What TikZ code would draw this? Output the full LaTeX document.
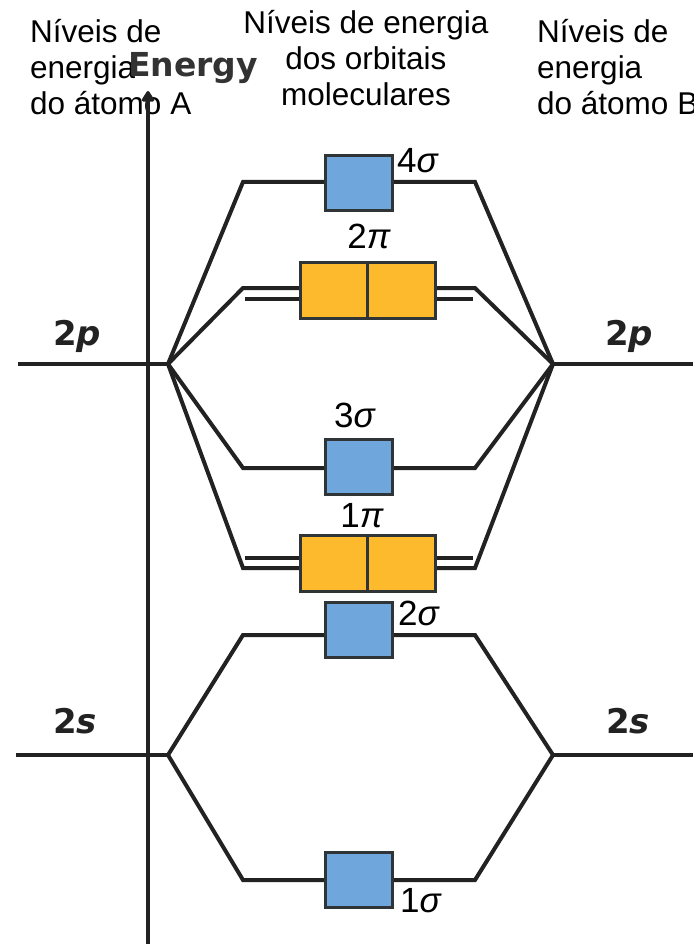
\documentclass[tikz,border=0pt]{standalone}
\usepackage{fontspec}
\setmainfont{Liberation Sans}
\newfontfamily\energyfont{DejaVu Sans}
\newfontfamily\lvlfont{DejaVu Sans}
\usetikzlibrary{arrows.meta}
\definecolor{ink}{HTML}{222222}
\definecolor{sblue}{HTML}{6FA6DC}
\definecolor{porange}{HTML}{FDBA2C}
\definecolor{boxline}{HTML}{2F3437}
\tikzset{
  lvl/.style={draw=ink,line width=4pt,line join=miter},
  sbox/.style={draw=boxline,fill=sblue,line width=3pt,minimum width=67pt,minimum height=55pt,inner sep=0pt},
  pbox/.style={draw=boxline,fill=porange,line width=3pt,minimum width=67.5pt,minimum height=56pt,inner sep=0pt},
  head/.style={font=\fontsize{31.5}{36}\selectfont,inner sep=0pt},
  orb/.style={font=\fontsize{35}{37}\selectfont,inner sep=0pt},
  atl/.style={font=\lvlfont\bfseries\fontsize{34}{36}\selectfont,text=ink,inner sep=0pt}
}
\begin{document}
\begin{tikzpicture}[x=1pt,y=-1pt]
\useasboundingbox (0,0) rectangle (693,944);
% headers
\node[head,anchor=north west,align=left] (hA) at (30,19) {Níveis de\\energia\\do átomo A};
\node[head,anchor=north,align=center] (hM) at (366,10) {Níveis de energia\\dos orbitais\\moleculares};
\node[head,anchor=north west,align=left] (hB) at (537,19) {Níveis de\\energia\\do átomo B};
% axis
\coordinate (ax0) at (148,944);
\coordinate (ax1) at (148,91);
\draw[draw=ink,line width=4pt,-{Triangle[round,length=12pt,width=14pt]}] (ax0) -- (ax1);
\node[font=\energyfont\bfseries\fontsize{33}{35}\selectfont,text=black!80,anchor=base west,inner sep=0pt] (en) at (128,77) {Energy};
% atomic levels
\coordinate (A2p) at (168,364); \coordinate (A2pe) at (18,364);
\coordinate (B2p) at (553,364); \coordinate (B2pe) at (693,364);
\coordinate (A2s) at (168,755); \coordinate (A2se) at (16,755);
\coordinate (B2s) at (553,755); \coordinate (B2se) at (693,755);
\draw[lvl] (A2pe) -- (A2p);
\draw[lvl] (B2p) -- (B2pe);
\draw[lvl] (A2se) -- (A2s);
\draw[lvl] (B2s) -- (B2se);
\node[atl,anchor=base west] (l2pA) at (53,345) {2\textit{p}};
\node[atl,anchor=base west] (l2pB) at (605,345) {2\textit{p}};
\node[atl,anchor=base west] (l2sA) at (53,733) {2\textit{s}};
\node[atl,anchor=base west] (l2sB) at (606,733) {2\textit{s}};
% corners
\coordinate (c4L) at (243,182); \coordinate (c4R) at (475,182);
\coordinate (c2pLu) at (243,288); \coordinate (c2pRu) at (475,288);
\coordinate (c2pLl) at (245,299); \coordinate (c2pRl) at (473,299);
\coordinate (c3L) at (243,468); \coordinate (c3R) at (475,468);
\coordinate (c1pLu) at (245,558); \coordinate (c1pRu) at (473,558);
\coordinate (c1pLl) at (243,568); \coordinate (c1pRl) at (475,568);
\coordinate (c2sL) at (243,635); \coordinate (c2sR) at (475,635);
\coordinate (c1sL) at (243,880); \coordinate (c1sR) at (475,880);
% connectors
\draw[lvl] (A2p) -- (c4L) -- (c4R) -- (B2p);
\draw[lvl] (A2p) -- (c2pLu) -- (c2pRu) -- (B2p);
\draw[lvl] (c2pLl) -- (c2pRl);
\draw[lvl] (A2p) -- (c3L) -- (c3R) -- (B2p);
\draw[lvl] (A2p) -- (c1pLl) -- (c1pRl) -- (B2p);
\draw[lvl] (c1pLu) -- (c1pRu);
\draw[lvl] (A2s) -- (c2sL) -- (c2sR) -- (B2s);
\draw[lvl] (A2s) -- (c1sL) -- (c1sR) -- (B2s);
% boxes
\node[sbox] (s4) at (359,183) {};
\node[pbox] (p2a) at (334,290) {};
\node[pbox] (p2b) at (401.5,290) {};
\node[sbox] (s3) at (359,467) {};
\node[pbox] (p1a) at (334,563) {};
\node[pbox] (p1b) at (401.5,563) {};
\node[sbox] (s2) at (359,630) {};
\node[sbox] (s1) at (359,880) {};
% orbital labels
\node[orb,anchor=base west] (t4) at (397,173) {4\textit{σ}};
\node[orb,anchor=base] (t2p) at (369,248) {2\textit{π}};
\node[orb,anchor=base] (t3) at (355,427) {3\textit{σ}};
\node[orb,anchor=base] (t1p) at (362,527) {1\textit{π}};
\node[orb,anchor=base west] (t2) at (398,625) {2\textit{σ}};
\node[orb,anchor=base west] (t1) at (400,912) {1\textit{σ}};
\end{tikzpicture}
\end{document}
